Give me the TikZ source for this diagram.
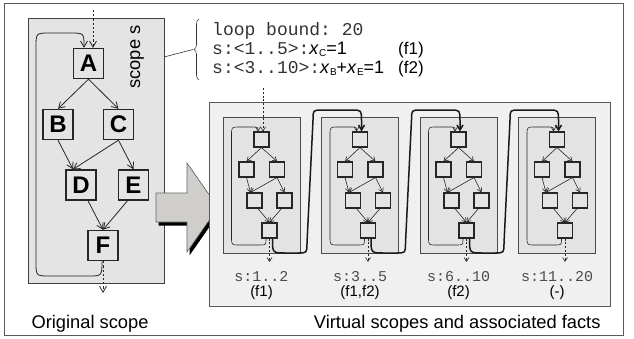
\documentclass[tikz,border=0pt]{standalone}
\usepackage{fontspec}
\setmainfont{Liberation Sans}
\setsansfont{Liberation Sans}
\setmonofont{Liberation Mono}
\usetikzlibrary{arrows.meta,decorations.pathreplacing,calc}
\definecolor{framec}{HTML}{5A5A5A}
\definecolor{scopefill}{HTML}{E4E4E4}
\definecolor{vfill}{HTML}{F0F0F1}
\definecolor{subfill}{HTML}{E3E3E4}
\definecolor{arrowfill}{HTML}{CFCECA}
\definecolor{monoc}{HTML}{333333}
\newcommand{\vx}[1]{{\rmfamily\color{black}\textit{x}\kern0.3pt{\fontsize{10}{10}\selectfont\raisebox{-2.5pt}{#1}}}}
\begin{document}
\begin{tikzpicture}[x=1pt,y=-1pt,
  outerframe/.style={draw=framec,line width=1pt},
  scopebox/.style={draw=black!75,fill=scopefill,line width=0.9pt},
  vbox/.style={draw=black!65,fill=vfill,line width=0.9pt},
  subbox/.style={draw=black!70,fill=subfill,line width=0.8pt},
  obox/.style={draw=black!85,fill=scopefill,line width=1.4pt,minimum size=30pt,inner sep=0pt,
    font=\fontsize{24}{24}\selectfont\bfseries},
  mbox/.style={draw=black!85,fill=scopefill,line width=1.1pt,minimum size=15pt,inner sep=0pt},
  edge/.style={draw=black!85,line width=0.8pt,-{Straight Barb[length=6pt,width=7pt]}},
  medge/.style={draw=black!85,line width=0.6pt,-{Straight Barb[length=4pt,width=5pt]}},
  dotedge/.style={draw=black!85,line width=0.8pt,dash pattern=on 2.2pt off 2pt,-{Straight Barb[length=6pt,width=7pt]}},
  mdot/.style={draw=black!85,line width=0.6pt,dash pattern=on 2pt off 1.8pt,-{Straight Barb[length=4pt,width=5pt]}},
  thick/.style={draw=black!90,line width=1.5pt,-{Straight Barb[length=5pt,width=6pt]}},
  bigtxt/.style={font=\fontsize{18.3}{20}\selectfont},
  monotxt/.style={font=\fontsize{18}{20}\selectfont\ttfamily,text=monoc,inner sep=0pt},
  facttxt/.style={font=\fontsize{17}{20}\selectfont,inner sep=0pt},
  lbl/.style={font=\fontsize{15}{17}\selectfont\ttfamily,text=black!70},
  fact/.style={font=\fontsize{15}{17}\selectfont}
]
\useasboundingbox (0,0) rectangle (634,338);
\draw[outerframe] (4,3) rectangle (623,335);

% ---------- original scope ----------
\draw[scopebox] (28,18) rectangle (164,283);
\node[bigtxt,rotate=90] (slabel) at (137,57) {scope s};

\node[obox] (A) at (88.5,63.5) {A};
\node[obox] (B) at (58,124.5) {B};
\node[obox] (C) at (118.5,124.5) {C};
\node[obox] (D) at (81,185) {D};
\node[obox] (E) at (133.5,185) {E};
\node[obox] (F) at (103,245.5) {F};

\draw[edge] (A.south) -- (B.north);
\draw[edge] (A.south) -- (C.north);
\draw[edge] (B.south) -- ($(D.north)+(-8,0)$);
\draw[edge] (C.south) -- ($(D.north)+(-8,0)$);
\draw[edge] (C.south) -- (E.north);
\draw[edge] ($(D.south)+(7,0)$) -- (F.north);
\draw[edge] ($(E.south)+(-6,0)$) -- (F.north);

\draw[edge] ($(F.south)+(-1,0)$) .. controls (102,276) .. (88,276) -- (50,276)
  .. controls (36,276) .. (36,262) -- (36,47) .. controls (36,33) .. (50,33)
  -- (70,33) .. controls (84,33) .. ($(A.north)+(-4.5,0)$);

\coordinate (oin) at (93,10);
\coordinate (oout) at (103,293);
\draw[dotedge] (oin) -- ($(A.north)+(4.5,0)$);
\draw[dotedge] (F.south) -- (oout);

% ---------- facts ----------
\coordinate (sconn) at (164,57);
\coordinate (btip) at (193,49.5);
\draw[black!80,line width=0.6pt] (sconn) -- (btip);
\draw[black!80,line width=0.6pt,decorate,decoration={brace,amplitude=5pt}] (199,80) -- (199,19);

\node[monotxt,anchor=base west] (l1) at (212,35.5) {loop bound: 20};
\node[monotxt,anchor=base west] (l2) at (212,54) {s:<1..5>:\vx{C}{\rmfamily\color{black}=1}};
\node[monotxt,anchor=base west] (l3) at (212,73) {s:<3..10>:\vx{B}{\rmfamily\color{black}+}\vx{E}{\rmfamily\color{black}=1}};
\node[facttxt,anchor=base west] (f1) at (398,54) {(f1)};
\node[facttxt,anchor=base west] (f2) at (398,73) {(f2)};

% ---------- big arrow ----------
\fill[black] ($(156,193)+(2.5,3.5)$) -- ++(31,0) -- ++(0,-30) -- ++(31,44.5) -- ++(-31,44.5) -- ++(0,-30) -- ++(-31,0) -- cycle;
\draw[fill=arrowfill,draw=black!60,line width=0.6pt] (156,193) -- (187,193) -- (187,163) -- (218,207.5) -- (187,252) -- (187,222) -- (156,222) -- cycle;

% ---------- virtual scopes ----------
\draw[vbox] (209,102) rectangle (610,306);

\foreach \i/\x/\s/\fa in {1/261.5/s:1..2/(f1), 2/360/s:3..5/{(f1,f2)}, 3/458.5/s:6..10/(f2), 4/557/s:11..20/(-)}{
  \draw[subbox] (\x-38.5,117) rectangle (\x+38.5,253);
  \node[mbox] (a\i) at (\x,139.5) {};
  \node[mbox] (b\i) at (\x-15,169.5) {};
  \node[mbox] (c\i) at (\x+15.5,169.5) {};
  \node[mbox] (d\i) at (\x-7,200.5) {};
  \node[mbox] (e\i) at (\x+23,200.5) {};
  \node[mbox] (f\i) at (\x+8,230.5) {};
  \draw[medge] (a\i.south) -- (b\i.north);
  \draw[medge] (a\i.south) -- (c\i.north);
  \draw[medge] (b\i.south) -- ($(d\i.north)+(-4,0)$);
  \draw[medge] (c\i.south) -- ($(d\i.north)+(-4,0)$);
  \draw[medge] (c\i.south) -- (e\i.north);
  \draw[medge] ($(d\i.south)+(3.5,0)$) -- (f\i.north);
  \draw[medge] ($(e\i.south)+(-3,0)$) -- (f\i.north);
  \draw[medge] ($(f\i.south)+(-3.5,0)$) .. controls (\x+4.5,245) .. (\x-2,245) -- (\x-22,245)
    .. controls (\x-30,245) .. (\x-30,237) -- (\x-30,135) .. controls (\x-30,127) .. (\x-22,127)
    -- (\x-10,127) .. controls (\x-3.5,127) .. ($(a\i.north)+(-3.5,0)$);
  \coordinate (o\i) at (\x+8,262);
  \draw[mdot] (f\i.south) -- (o\i);
  \node[lbl] (s\i) at (\x,277) {\s};
  \node[fact] (g\i) at (\x,293) {\fa};
}

\coordinate (vin) at (263,88);
\draw[mdot] (vin) -- ($(a1.north)+(1.5,0)$);

\foreach \i/\j/\x in {1/2/261.5, 2/3/360, 3/4/458.5}{
  \draw[thick] ($(f\i.south)+(3,0)$) .. controls (\x+11,253) .. (\x+24,253) -- (\x+36,253)
    .. controls (\x+45.5,253) .. (\x+45.5,243) -- (\x+51.5,120) .. controls (\x+51.5,110) .. (\x+61,110)
    -- (\x+90,110) .. controls (\x+100,110) .. (\x+100,121) -- ($(a\j.north)+(1.5,0)$);
}

% ---------- captions ----------
\node[bigtxt,anchor=base west] (cap1) at (28,328.5) {Original scope};
\node[bigtxt,anchor=base east] (cap2) at (604,328.5) {Virtual scopes and associated facts};
\end{tikzpicture}
\end{document}
